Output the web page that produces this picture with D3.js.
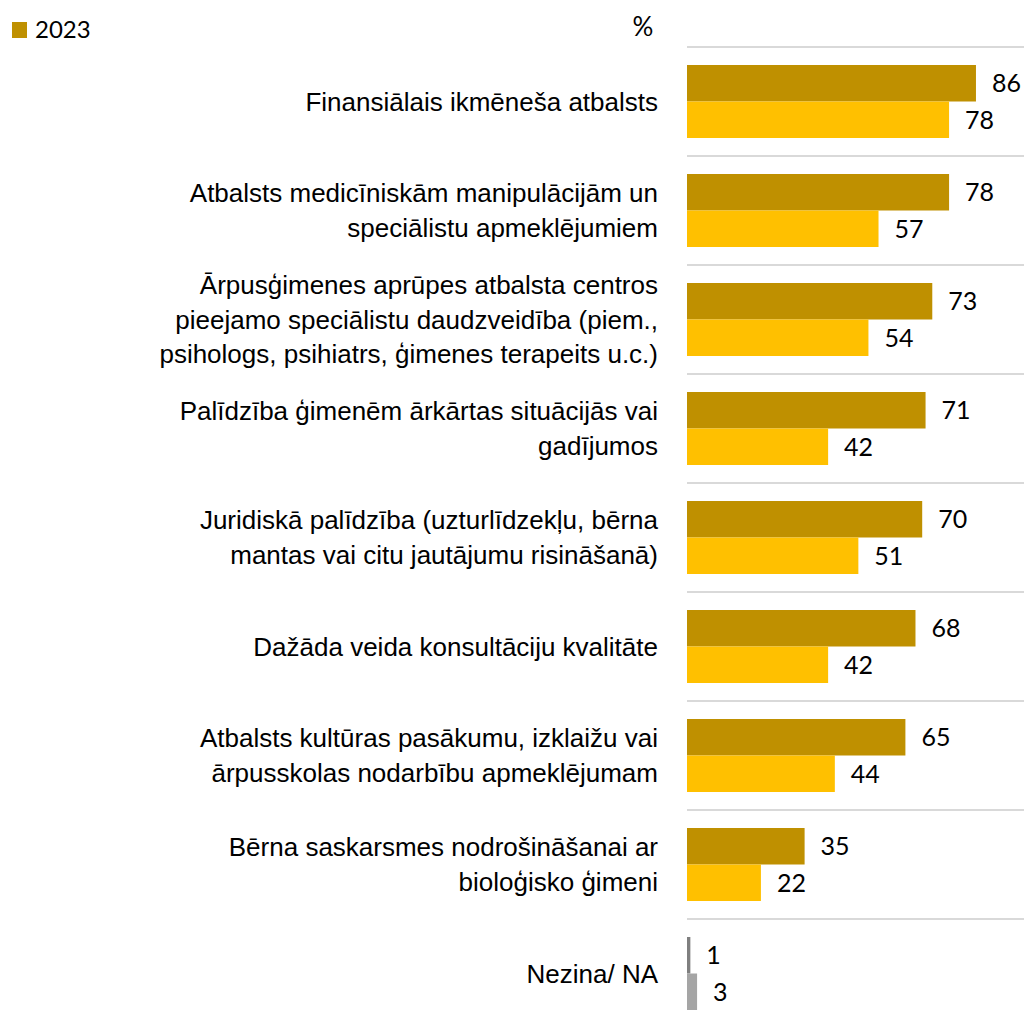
<!DOCTYPE html>
<html>
<head>
<meta charset="utf-8">
<script src="https://cdn.jsdelivr.net/npm/d3@7"></script>
<style>
  body { margin: 0; background: #fff; }
  svg { display: block; font-family: Lato, "Open Sans", sans-serif; }
</style>
</head>
<body>
<div id="container"></div>
<script>
const width = 1024;
const height = 1022;

// Categories (line breaks as in the original labels)
const categories = [
  "Finansiālais ikmēneša atbalsts",
  "Atbalsts medicīniskām manipulācijām un\nspeciālistu apmeklējumiem",
  "Ārpusģimenes aprūpes atbalsta centros\npieejamo speciālistu daudzveidība (piem.,\npsihologs, psihiatrs, ģimenes terapeits u.c.)",
  "Palīdzība ģimenēm ārkārtas situācijās vai\ngadījumos",
  "Juridiskā palīdzība (uzturlīdzekļu, bērna\nmantas vai citu jautājumu risināšanā)",
  "Dažāda veida konsultāciju kvalitāte",
  "Atbalsts kultūras pasākumu, izklaižu vai\nārpusskolas nodarbību apmeklējumam",
  "Bērna saskarsmes nodrošināšanai ar\nbioloģisko ģimeni",
  "Nezina/ NA",
];

// Series values (%)
const values2023 = [86, 78, 73, 71, 70, 68, 65, 35, 1];
const valuesPrev = [78, 57, 54, 42, 51, 42, 44, 22, 3];

const seriesKeys = ["2023", "prev"];
const legendLabels = ["2023"];

// colours
const colours = { "2023": "#bf9000", prev: "#ffc000" };
const naColours = { "2023": "#7f7f7f", prev: "#a5a5a5" };
const naCategory = "Nezina/ NA";

const labelSize = 26;
const numberSize = 25;

const rows = categories.map((c, i) => ({
  category: c,
  values: [
    { key: "2023", value: values2023[i] },
    { key: "prev", value: valuesPrev[i] },
  ],
}));

const svg = d3
  .select("#container")
  .append("svg")
  .attr("width", width)
  .attr("height", height);

// scales
const x = d3.scaleLinear().domain([0, 100]).range([687, 1023]);
const y = d3
  .scaleBand()
  .domain(categories)
  .range([47, 47 + 109 * categories.length]);
const ySub = d3
  .scaleBand()
  .domain(seriesKeys)
  .range([18, y.bandwidth() - 18]);

// grid lines at the top of each band
svg
  .append("g")
  .selectAll("line")
  .data(categories)
  .enter()
  .append("line")
  .attr("x1", x(0))
  .attr("x2", width)
  .attr("y1", (d) => y(d))
  .attr("y2", (d) => y(d))
  .attr("stroke", "#d9d9d9")
  .attr("stroke-width", 2);

// category axis
const yAxis = d3.axisLeft(y).tickSize(0).tickPadding(29);
const axisG = svg
  .append("g")
  .attr("transform", `translate(${x(0)},0)`)
  .call(yAxis);
axisG.select(".domain").remove();
axisG.selectAll(".tick text").each(function (d) {
  const lines = d.split("\n");
  const t = d3
    .select(this)
    .text(null)
    .attr("font-family", null)
    .attr("font-size", labelSize)
    .attr("fill", "#000")
    .attr("dy", null);
  const lh = 34.5;
  lines.forEach((line, i) => {
    t.append("tspan")
      .attr("x", -29)
      .attr("y", (i - (lines.length - 1) / 2) * lh)
      .attr("dy", "0.35em")
      .text(line);
  });
});

// bars
const groups = svg
  .append("g")
  .selectAll("g")
  .data(rows)
  .enter()
  .append("g")
  .attr("transform", (d) => `translate(0,${y(d.category)})`);

groups
  .selectAll("rect")
  .data((d) => d.values.map((v) => ({ ...v, category: d.category })))
  .enter()
  .append("rect")
  .attr("x", x(0))
  .attr("y", (d) => ySub(d.key))
  .attr("width", (d) => x(d.value) - x(0))
  .attr("height", ySub.bandwidth())
  .attr("fill", (d) =>
    d.category === naCategory ? naColours[d.key] : colours[d.key]
  );

// value labels
groups
  .selectAll("text")
  .data((d) => d.values)
  .enter()
  .append("text")
  .attr("x", (d) => x(d.value) + 16)
  .attr("y", (d) => ySub(d.key) + ySub.bandwidth() / 2)
  .attr("dy", "0.35em")
  .attr("font-size", numberSize)
  .text((d) => d.value);

// legend
const legend = svg.append("g").attr("transform", "translate(12,22)");
legendLabels.forEach((label, i) => {
  legend
    .append("rect")
    .attr("x", 0)
    .attr("y", i * 30)
    .attr("width", 15)
    .attr("height", 16)
    .attr("fill", colours[label]);
  legend
    .append("text")
    .attr("x", 23)
    .attr("y", i * 30 + 8)
    .attr("dy", "0.35em")
    .attr("font-size", 24)
    .text(label);
});

// unit label
svg
  .append("text")
  .attr("x", 643)
  .attr("y", 27)
  .attr("dy", "0.35em")
  .attr("text-anchor", "middle")
  .attr("font-size", labelSize)
  .text("%");
</script>
</body>
</html>
